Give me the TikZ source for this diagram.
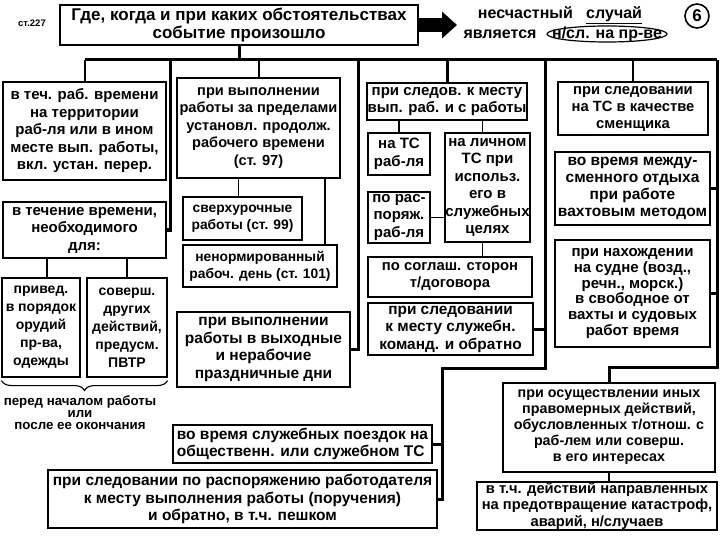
\documentclass[tikz,border=0pt]{standalone}
\usepackage{fontspec}
\setmainfont{Liberation Sans}
\usepackage{tikz}
\usetikzlibrary{arrows.meta,decorations.pathreplacing}

\newcommand{\fs}[2]{\bfseries\fontsize{#1}{#2}\selectfont}

\begin{document}
\begin{tikzpicture}[x=1pt,y=-1pt,
    txt/.style={font=\fs{15}{17.5}},
    box/.style={txt,draw,line width=1.8pt,align=center,inner sep=0pt},
    thickbox/.style={box,line width=2.6pt},
    thinbox/.style={box,line width=1.1pt},
    bus/.style={line width=3pt},
    stem/.style={line width=2pt},
    link/.style={line width=1.1pt}]
  \useasboundingbox (0,0) rectangle (720,540);
  % Kopf
  \node[font=\fs{9.5}{11}] (art) at (32,23) {ст.227};
  \node[thickbox,minimum width=358pt,minimum height=40pt,font=\fs{17}{18}] (where) at (239,25) {Где, когда и при каких обстоятельствах\\событие произошло};
  \coordinate (tip) at (457,25);
  \draw[line width=14pt,-{Triangle[length=15pt,width=26pt]}] (where.east) -- (tip);
  \node[font=\fs{16}{18}] (nsl) at (560,15) {несчастный\ \ \ \underline{случай}};
  \node[font=\fs{16}{18}] (is) at (500,34) {является};
  \node[font=\fs{16}{18}] (onprod) at (607,34) {н/сл. на пр-ве};
  \draw[line width=1.2pt] (onprod.center) ellipse [x radius=60pt,y radius=8pt];
  \node[draw,circle,line width=1.6pt,minimum size=24pt,inner sep=0pt,font=\fs{17}{18}] (num) at (697,16) {6};
  % linke Spalte
  \node[box,minimum width=163pt,minimum height=98pt] (during) at (84.5,131) {в теч. раб. времени\\на территории\\раб-ля или в ином\\месте вып. работы,\\вкл. устан. перер.};
  \node[box,minimum width=163pt,minimum height=56pt] (necessary) at (84.5,230) {в течение времени,\\необходимого\\для:};
  \node[thinbox,minimum width=78pt,minimum height=99pt,font=\fs{14}{18}] (repair) at (41,327.5) {привед.\\в порядок\\орудий\\пр-ва,\\одежды};
  \node[thinbox,minimum width=80pt,minimum height=99pt,font=\fs{14}{18}] (other) at (127,327.5) {соверш.\\других\\действий,\\предусм.\\ПВТР};
  \draw[link,decorate,decoration={brace,mirror,amplitude=10pt}] ([yshift=-3pt]repair.south west) -- ([yshift=-3pt]other.south east);
  \node[align=center,font=\fs{13.3}{12}] (before) at (80,413) {перед началом работы\\или\\после ее окончания};
  % zweite Spalte
  \node[thickbox,minimum width=163pt,minimum height=100pt,font=\fs{14.6}{17.5}] (worktime) at (258.5,128) {при выполнении\\работы за пределами\\установл. продолж.\\рабочего времени\\(ст. 97)};
  \node[thinbox,minimum width=119pt,minimum height=43pt,font=\fs{13.8}{17}] (overtime) at (242.5,218.5) {сверхурочные\\работы (ст. 99)};
  \node[thinbox,minimum width=154pt,minimum height=42pt,font=\fs{13.8}{17}] (irregular) at (260,266) {ненормированный\\рабоч. день (ст. 101)};
  \node[box,minimum width=173pt,minimum height=75pt,font=\fs{15.5}{17.5}] (weekend) at (263.5,349.5) {при выполнении\\работы в выходные\\и нерабочие\\праздничные дни};
  % dritte Spalte
  \node[thickbox,minimum width=160pt,minimum height=37pt] (commute) at (447,101.5) {при следов. к месту\\вып. раб. и с работы};
  \node[box,line width=1.4pt,minimum width=62pt,minimum height=42pt] (empcar) at (399,154) {на ТС\\раб-ля};
  \node[box,line width=1.4pt,minimum width=85pt,minimum height=109pt] (owncar) at (487.5,187.5) {на личном\\ТС при\\использ.\\его в\\служебных\\целях};
  \node[box,line width=1.4pt,minimum width=62pt,minimum height=51pt] (emporder) at (399,217.5) {по рас-\\поряж.\\раб-ля};
  \node[thinbox,minimum width=164pt,minimum height=40pt,font=\fs{14.8}{17}] (agreement) at (450,277) {по соглаш. сторон\\т/договора};
  \node[thickbox,minimum width=165pt,minimum height=52pt,font=\fs{15.4}{17.5}] (mission) at (450.5,329) {при следовании\\к месту служебн.\\команд. и обратно};
  \node[thickbox,minimum width=259pt,minimum height=38pt,align=left,font=\fs{15.5}{17.5}] (trip) at (302.5,444) {во время служебных поездок на\\общественн. или служебном ТС};
  \node[thickbox,minimum width=389pt,minimum height=58pt,font=\fs{15.5}{17.5}] (travel) at (242.5,499) {при следовании по распоряжению работодателя\\к месту выполнения работы (поручения)\\и обратно, в т.ч. пешком};
  % rechte Spalte
  \node[box,minimum width=150pt,minimum height=53pt,font=\fs{14.8}{17}] (shift) at (633,108.5) {при следовании\\на ТС в качестве\\сменщика};
  \node[box,minimum width=155pt,minimum height=73pt,font=\fs{15.5}{17}] (rest) at (632.5,188.5) {во время между-\\сменного отдыха\\при работе\\вахтовым методом};
  \node[box,minimum width=155pt,minimum height=107pt,font=\fs{15}{15.8}] (ship) at (632.5,293.5) {при нахождении\\на судне (возд.,\\речн., морск.)\\в свободное от\\вахты и судовых\\работ время};
  \node[thickbox,minimum width=212pt,minimum height=89pt,font=\fs{14.3}{16}] (lawful) at (609,427.5) {при осуществлении иных\\правомерных действий,\\обусловленных т/отнош. с\\раб-лем или соверш.\\в его интересах};
  \node[thinbox,minimum width=240pt,minimum height=48pt,font=\fs{14.7}{16.5}] (prevent) at (597,506) {в т.ч. действий направленных\\на предотвращение катастроф,\\аварий, н/случаев};
  % Verbindungen
  \coordinate (bL) at (84.5,60);
  \coordinate (bR) at (717,60);
  \coordinate (b2) at (170,60);
  \coordinate (b4) at (358,60);
  \coordinate (b6) at (545,60);
  \coordinate (j1) at (545,368);
  \coordinate (j2) at (442,368);
  \coordinate (j3) at (717,367);
  \draw[bus] (where.south) -- (where.south |- bL);
  \draw[bus] (bL) -- (bR);
  \draw[stem] (during.north) -- (during.north |- bL);
  \draw[bus] (b2) |- (necessary.east);
  \draw[stem] (worktime.north) -- (worktime.north |- bL);
  \draw[bus] (b4) |- (weekend.east);
  \draw[bus] (commute.north) -- (commute.north |- bL);
  \draw[bus] (b6) -- (j1) -- (j2) |- (travel.east);
  \draw[bus] (mission.east) -- (mission.east -| b6);
  \draw[bus] (trip.east) -- (trip.east -| j2);
  \draw[stem] (shift.north) -- (shift.north |- bL);
  \draw[bus] (bR) -- (j3) -| (lawful.north);
  \draw[bus] (rest.east) -- (rest.east -| bR);
  \draw[bus] (ship.east) -- (ship.east -| bR);
  \draw[link] ([xshift=6pt]repair.north) -- ([xshift=6pt]repair.north |- necessary.south);
  \draw[link] (other.north) -- (other.north |- necessary.south);
  \draw[link] ([xshift=-4pt]overtime.north) -- ([xshift=-4pt]overtime.north |- worktime.south);
  \draw[link] ([xshift=65pt]irregular.north) -- ([xshift=65pt]irregular.north |- worktime.south);
  \draw[link] (empcar.north) -- (empcar.north |- commute.south);
  \draw[link] ([xshift=-5pt]owncar.north) -- ([xshift=-5pt]owncar.north |- commute.south);
  \draw[link] (emporder.east) -- (emporder.east -| owncar.west);
  \draw[link] ([xshift=-5pt]owncar.south) -- ([xshift=-5pt]owncar.south |- agreement.north);
  \draw[link] (lawful.south) -- (lawful.south |- prevent.north);
\end{tikzpicture}
\end{document}
